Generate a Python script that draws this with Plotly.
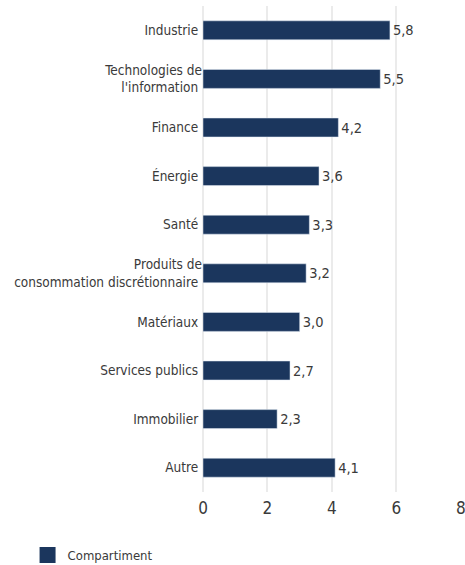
import plotly.graph_objects as go

categories = ["Industrie", "Technologies de<br>l'information", "Finance", "Énergie", "Santé",
              "Produits de<br>consommation discrétionnaire", "Matériaux", "Services publics",
              "Immobilier", "Autre"]
values = [5.8, 5.5, 4.2, 3.6, 3.3, 3.2, 3.0, 2.7, 2.3, 4.1]
series_name = "Compartiment"
x_ticks = [0, 2, 4, 6, 8]

FONT = "DejaVu Sans Condensed, Liberation Sans Narrow, sans-serif"
TXT = "#3a3a3a"
BAR = "#1b365d"
GRID = "#ebebeb"

fig = go.Figure()
fig.add_trace(go.Bar(
    x=values, y=categories, orientation="h", name=series_name,
    marker=dict(color=BAR), width=0.39, showlegend=False,
    text=[f"{v:.1f}".replace(".", ",") for v in values],
    textposition="outside", cliponaxis=False,
    textfont=dict(family=FONT, size=14.5, color=TXT),
))
fig.add_trace(go.Scatter(
    x=[None], y=[None], mode="markers", name=series_name,
    marker=dict(symbol="square", size=17, color=BAR), showlegend=True,
))
fig.update_layout(
    width=465, height=565,
    margin=dict(l=203, r=4, t=6, b=73),
    plot_bgcolor="white", paper_bgcolor="white",
    font=dict(family=FONT, size=13.5, color=TXT),
    separators=", ",
    showlegend=True,
    legend=dict(orientation="h", xref="paper", x=-0.68, xanchor="left",
                yref="container", y=0.0177, yanchor="middle",
                font=dict(family=FONT, size=13, color=TXT), itemwidth=30),
    xaxis=dict(range=[0, 8.005], tickvals=x_ticks, showgrid=True, gridcolor=GRID, gridwidth=2,
               zeroline=True, zerolinecolor=GRID, zerolinewidth=2, showline=False,
               automargin=False, ticklabeloverflow="allow", ticklabelstandoff=4,
               ticks="", tickfont=dict(family=FONT, size=17, color=TXT)),
    yaxis=dict(autorange="reversed", showgrid=False, showline=False, ticks="", automargin=False,
               ticksuffix=" ", tickfont=dict(family=FONT, size=13.5, color=TXT)),
)
fig.write_html("out.html", config={"displayModeBar": False},
               post_script="document.body.style.margin='0';document.body.style.overflow='hidden';")
